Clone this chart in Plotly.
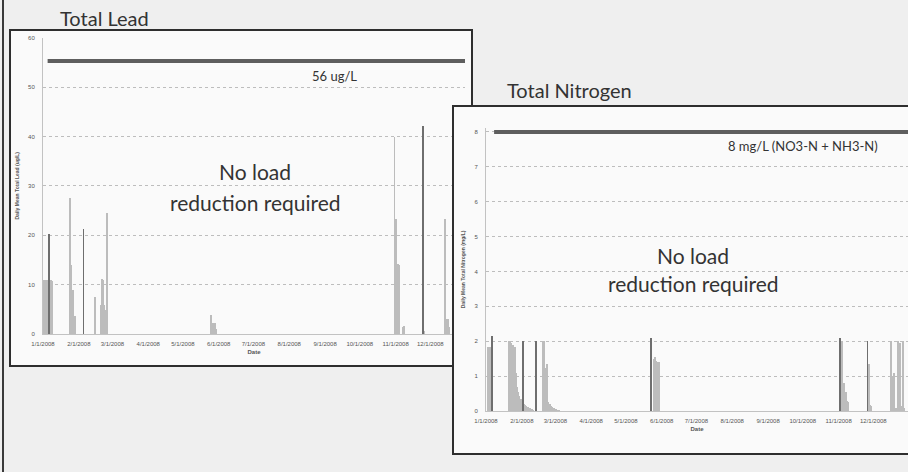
import plotly.graph_objects as go

# values (daily means, 2008)
month_ticks = ["2008-01-01", "2008-02-01", "2008-03-01", "2008-04-01", "2008-05-01", "2008-06-01",
               "2008-07-01", "2008-08-01", "2008-09-01", "2008-10-01", "2008-11-01", "2008-12-01"]
month_labels = ["1/1/2008", "2/1/2008", "3/1/2008", "4/1/2008", "5/1/2008", "6/1/2008",
                "7/1/2008", "8/1/2008", "9/1/2008", "10/1/2008", "11/1/2008", "12/1/2008"]

lead_dates = ["2008-01-01", "2008-01-02", "2008-01-03", "2008-01-04", "2008-01-05", "2008-01-06",
              "2008-01-07", "2008-01-08", "2008-01-09",
              "2008-01-24", "2008-01-25", "2008-01-26", "2008-01-27", "2008-01-28", "2008-01-29",
              "2008-02-15",
              "2008-02-20", "2008-02-21", "2008-02-22", "2008-02-23", "2008-02-24", "2008-02-25",
              "2008-05-25", "2008-05-26", "2008-05-27", "2008-05-28", "2008-05-29", "2008-05-30",
              "2008-10-31", "2008-11-01", "2008-11-02", "2008-11-03", "2008-11-04", "2008-11-07", "2008-11-08",
              "2008-11-26",
              "2008-12-14", "2008-12-15", "2008-12-16", "2008-12-17"]
lead_values = [11, 11, 11, 11, 11, 11, 11, 11, 10.8,
               27.7, 14, 9, 9, 3.8, 3.8,
               7.5,
               6, 11.3, 11, 6, 5, 24.6,
               4, 1.2, 2.3, 2.2, 2.2, 1.0,
               40, 23.4, 14.3, 14.3, 14, 1.5, 1.6,
               0.6,
               23.4, 3.2, 3.0, 1.5]
lead_peak_dates = ["2008-01-06", "2008-02-05", "2008-11-25"]
lead_peak_values = [20.4, 21.4, 42.2]
lead_limit = 55.3
lead_limit_span = ["2008-01-05", "2008-12-31"]
lead_y_ticks = [0, 10, 20, 30, 40, 50, 60]

nitrogen_dates = ["2008-01-03", "2008-01-04", "2008-01-05",
                  "2008-01-21", "2008-01-22", "2008-01-23", "2008-01-24", "2008-01-25", "2008-01-26",
                  "2008-01-27", "2008-01-28", "2008-01-29", "2008-01-30", "2008-01-31", "2008-02-01",
                  "2008-02-03", "2008-02-04", "2008-02-05", "2008-02-06", "2008-02-07", "2008-02-08",
                  "2008-02-09", "2008-02-10", "2008-02-11",
                  "2008-02-19", "2008-02-20", "2008-02-21", "2008-02-22", "2008-02-23", "2008-02-24",
                  "2008-02-25", "2008-02-26", "2008-02-27", "2008-02-28", "2008-02-29", "2008-03-01",
                  "2008-03-02", "2008-03-03", "2008-03-04",
                  "2008-05-25", "2008-05-26", "2008-05-27", "2008-05-28", "2008-05-29", "2008-05-30",
                  "2008-11-03", "2008-11-04", "2008-11-05", "2008-11-06", "2008-11-07", "2008-11-08", "2008-11-09",
                  "2008-11-27", "2008-11-28", "2008-11-29",
                  "2008-12-16", "2008-12-17", "2008-12-18", "2008-12-19", "2008-12-20", "2008-12-21",
                  "2008-12-22", "2008-12-23", "2008-12-24", "2008-12-25", "2008-12-26", "2008-12-27", "2008-12-28"]
nitrogen_values = [1.85, 1.85, 1.85,
                   2.0, 2.0, 1.95, 1.9, 1.85, 1.85,
                   1.1, 0.7, 0.55, 0.45, 0.35, 0.3,
                   0.22, 0.18, 0.15, 0.12, 0.1, 0.08,
                   0.06, 0.05, 0.04,
                   2.0, 2.0, 1.2, 1.25, 1.35, 0.25,
                   0.2, 0.15, 0.12, 0.1, 0.08, 0.06,
                   0.05, 0.04, 0.03,
                   1.5, 1.55, 1.45, 1.4, 1.4, 1.4,
                   2.0, 2.0, 0.6, 0.8, 0.55, 0.3, 0.25,
                   1.35, 0.17, 0.15,
                   2.0, 0.2, 1.0, 1.1, 0.1, 0.1,
                   2.0, 1.9, 1.95, 0.15, 0.1, 2.0, 0.1]
nitrogen_peak_dates = ["2008-01-06", "2008-02-02", "2008-02-13", "2008-05-23", "2008-11-02", "2008-11-26"]
nitrogen_peak_values = [2.15, 2.0, 2.0, 2.1, 2.1, 2.0]
nitrogen_limit = 8
nitrogen_limit_span = ["2008-01-08", "2008-12-31"]
nitrogen_y_ticks = [0, 1, 2, 3, 4, 5, 6, 7, 8]

W, H = 908, 472
DAY = 86400000
ink = "#333333"
grid = "#bdbdbd"
tiny = dict(family="Liberation Sans, Arial, sans-serif", size=6, color="#555555")
big = "Lato, Open Sans, sans-serif"
light_bar = "#bcbcbc"
dark_bar = "#6e6e6e"


def fx(p):
    return p / W


def fy(p):
    return 1 - p / H


fig = go.Figure()

# lead subplot (xy)
fig.add_trace(go.Bar(x=lead_dates, y=lead_values, width=0.8 * DAY, marker=dict(color=light_bar, line_width=0),
                     xaxis="x", yaxis="y", showlegend=False))
fig.add_trace(go.Bar(x=lead_peak_dates, y=lead_peak_values, width=0.8 * DAY,
                     marker=dict(color=dark_bar, line_width=0), xaxis="x", yaxis="y", showlegend=False))
fig.add_trace(go.Scatter(x=lead_limit_span, y=[lead_limit] * 2, mode="lines",
                         line=dict(color="#5e5e5e", width=4), xaxis="x", yaxis="y", showlegend=False))

# cover panel (x2y2) - the nitrogen box sitting on top of the lead chart
fig.add_trace(go.Scatter(x=[], y=[], xaxis="x2", yaxis="y2", showlegend=False, hoverinfo="skip"))

# nitrogen subplot (x3y3)
fig.add_trace(go.Bar(x=nitrogen_dates, y=nitrogen_values, width=0.8 * DAY,
                     marker=dict(color=light_bar, line_width=0), xaxis="x3", yaxis="y3", showlegend=False))
fig.add_trace(go.Bar(x=nitrogen_peak_dates, y=nitrogen_peak_values, width=0.8 * DAY,
                     marker=dict(color=dark_bar, line_width=0), xaxis="x3", yaxis="y3", showlegend=False))
fig.add_trace(go.Scatter(x=nitrogen_limit_span, y=[nitrogen_limit] * 2, mode="lines",
                         line=dict(color="#5e5e5e", width=4), xaxis="x3", yaxis="y3", showlegend=False))


def date_axis(left, right, end, anchor):
    return dict(
        domain=[fx(left), fx(right)], range=["2008-01-01", end], anchor=anchor, automargin=False,
        tickvals=month_ticks, ticktext=month_labels, tickfont=tiny, ticks="",
        ticklabelstandoff=4, showgrid=False, zeroline=False,
        showline=True, linecolor="#c2c2c2", linewidth=1,
        title=dict(text="<b>Date</b>", font=tiny, standoff=3),
    )


def value_axis(bottom, top, rng, ticks, anchor, title):
    return dict(
        domain=[fy(bottom), fy(top)], range=rng, anchor=anchor, automargin=False,
        tickvals=ticks, tickfont=tiny, ticks="", ticklabelstandoff=6,
        showgrid=True, gridcolor=grid, griddash="dot", gridwidth=1, zeroline=False,
        showline=True, linecolor="#c2c2c2", linewidth=1,
        title=dict(text="<b>" + title + "</b>", font=dict(tiny, size=5), standoff=8),
    )


blank = dict(range=[0, 1], showticklabels=False, showgrid=False, zeroline=False, ticks="",
             automargin=False, showline=True, linecolor="#2e2e2e", linewidth=2)

fig.update_layout(
    width=W, height=H,
    margin=dict(l=0, r=0, t=0, b=0, pad=0),
    paper_bgcolor="#efefef",
    plot_bgcolor="#fafafa",
    barmode="overlay",
    bargap=0,
    xaxis=date_axis(43, 465, "2008-12-31", "y"),
    yaxis=value_axis(334, 37.7, [0, 60], lead_y_ticks, "x", "Daily Mean Total Lead (ug/L)"),
    xaxis2=dict(blank, domain=[fx(454), 1], anchor="y2", mirror=True),
    yaxis2=dict(blank, domain=[fy(453), fy(107)], anchor="x2", mirror=False),
    xaxis3=date_axis(486, 908, "2008-12-31", "y3"),
    yaxis3=value_axis(411, 127.8, [0, 8.12], nitrogen_y_ticks, "x3", "Daily Mean Total Nitrogen (mg/L)"),
    shapes=[
        dict(type="line", xref="paper", yref="paper", x0=fx(3), x1=fx(3), y0=0, y1=1,
             line=dict(color="#3a3a3a", width=2), layer="below"),
        dict(type="rect", xref="paper", yref="paper", x0=fx(10), x1=fx(472), y0=fy(366), y1=fy(30),
             fillcolor="#fafafa", line=dict(color="#2e2e2e", width=2), layer="below"),
    ],
    annotations=[
        dict(text="Total Lead", x=fx(104), y=fy(18), font=dict(family=big, size=20, color=ink)),
        dict(text="56 ug/L", x=fx(334), y=fy(76), font=dict(family=big, size=13, color=ink)),
        dict(text="No load", x=fx(255), y=fy(172), font=dict(family=big, size=21, color=ink)),
        dict(text="reduction required", x=fx(255), y=fy(202), font=dict(family=big, size=21, color=ink)),
        dict(text="Total Nitrogen", x=fx(569), y=fy(90), font=dict(family=big, size=20, color=ink)),
        dict(text="8 mg/L (NO3-N + NH3-N)", x=fx(803), y=fy(146), font=dict(family=big, size=13, color=ink)),
        dict(text="No load", x=fx(693), y=fy(255), font=dict(family=big, size=21, color=ink)),
        dict(text="reduction required", x=fx(693), y=fy(283), font=dict(family=big, size=21, color=ink)),
    ],
)
for a in fig.layout.annotations:
    a.update(xref="paper", yref="paper", showarrow=False, xanchor="center", yanchor="middle")

fig.write_html("out.html", config={"displayModeBar": False},
               post_script="document.body.style.margin = '0px';")
